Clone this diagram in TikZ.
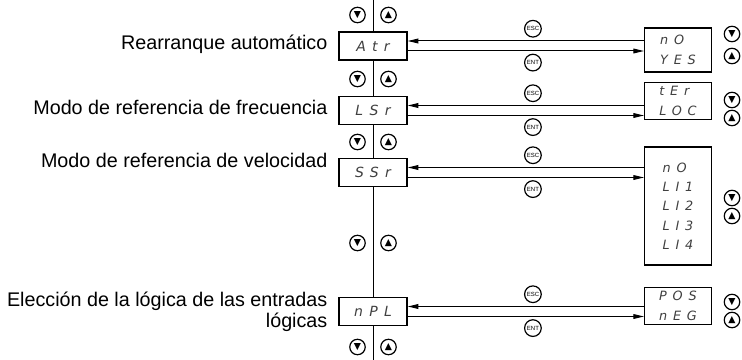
\documentclass[tikz,border=0pt]{standalone}
\usepackage{fontspec}
\setmainfont{Liberation Sans}
\newfontfamily\lcdfont{DejaVu Sans}[LetterSpace=45]
\newfontfamily\symfont{DejaVu Sans}
\usetikzlibrary{arrows.meta,positioning}
\newcommand{\dnkey}{\symfont\char"25BC}
\newcommand{\upkey}{\symfont\char"25B2}

\begin{document}
\begin{tikzpicture}[
   x=0.75pt, y=-0.75pt,
   lcd/.style={draw, line width=1.1pt, fill=white, minimum width=51pt,
      minimum height=21pt, inner sep=0pt, text=black!75,
      font=\lcdfont\itshape\fontsize{10.5}{12}\selectfont},
   choice/.style={draw, line width=1.1pt, fill=white, minimum width=50pt,
      align=left, inner sep=0pt, text=black!75,
      font=\lcdfont\itshape\fontsize{9.6}{14.5}\selectfont},
   lbl/.style={align=right, inner sep=0pt,
      font=\fontsize{14.8}{16}\selectfont},
   key/.style={draw, circle, line width=0.9pt, minimum size=11.6pt,
      inner sep=0pt, font=\symfont\fontsize{7}{7}\selectfont},
   btn/.style={draw, circle, line width=0.9pt, minimum size=12.5pt,
      inner sep=0pt, font=\fontsize{4.5}{4.5}\selectfont},
   arrow/.style={-{Triangle[length=8pt, width=3.6pt]}, line width=0.75pt},
   link/.style={line width=0.75pt}
]
\useasboundingbox (0,0) rectangle (742,360);

% menu as shown on the terminal
\node[lcd] (Atr) at (373,46) {Atr};
\node[lcd] (LSr) at (373,110.5) {LSr};
\node[lcd] (SSr) at (373,172.5) {SSr};
\node[lcd] (nPL) at (373,311.5) {nPL};

\node[lbl, left=8pt of Atr, anchor=base east, yshift=-3pt] (tAtr)
   {Rearranque automático};
\node[lbl, left=8pt of LSr, anchor=base east, yshift=-3pt] (tLSr)
   {Modo de referencia de frecuencia};
\node[lbl, left=8pt of SSr, anchor=base east, yshift=3.4pt] (tSSr)
   {Modo de referencia de velocidad};
\node[lbl, left=8pt of nPL, anchor=base east, yshift=-12.2pt] (tnPL)
   {Elección de la lógica de las entradas\\lógicas};

% values to choose from
\node[choice, minimum height=33pt] (R1) at (678,50) {nO\\YES};
\node[choice, minimum height=27.5pt] (R2) at (678,101) {tEr\\LOC};
\node[choice, minimum height=88.5pt] (R3) at (678,206)
   {nO\\LI1\\LI2\\LI3\\LI4};
\node[choice, minimum height=27.5pt] (R4) at (678,306) {POS\\nEG};

% scrolling through the menu
\coordinate (top) at (373,0);
\coordinate (bot) at (373,360);
\draw[link] (top) -- (Atr) -- (LSr) -- (SSr) -- (nPL) -- (bot);

\node[key] (dn1) at (357.5,15) {\dnkey};
\node[key] (up1) at (388.5,15) {\upkey};
\node[key] (dn2) at (357.5,79) {\dnkey};
\node[key] (up2) at (388.5,79) {\upkey};
\node[key] (dn3) at (357.5,142) {\dnkey};
\node[key] (up3) at (388.5,142) {\upkey};
\node[key] (dn4) at (357.5,243) {\dnkey};
\node[key] (up4) at (388.5,243) {\upkey};
\node[key] (dn5) at (357.5,347) {\dnkey};
\node[key] (up5) at (388.5,347) {\upkey};

\node[key] (dnR1) at (732,34) {\dnkey};
\node[key] (upR1) at (732,56) {\upkey};
\node[key] (dnR2) at (732,100) {\dnkey};
\node[key] (upR2) at (732,118) {\upkey};
\node[key] (dnR3) at (732,198) {\dnkey};
\node[key] (upR3) at (732,216) {\upkey};
\node[key] (dnR4) at (732,302) {\dnkey};
\node[key] (upR4) at (732,320) {\upkey};

% ESC back, ENT into the values
\coordinate (a1) at ([yshift=3.75pt]Atr.east);
\coordinate (b1) at ([yshift=-3.75pt]Atr.east);
\coordinate (a2) at ([yshift=3.75pt]LSr.east);
\coordinate (b2) at ([yshift=-3.75pt]LSr.east);
\coordinate (a3) at ([yshift=3.75pt]SSr.east);
\coordinate (b3) at ([yshift=-3.75pt]SSr.east);
\coordinate (a4) at ([yshift=3.75pt]nPL.east);
\coordinate (b4) at ([yshift=-3.75pt]nPL.east);

\draw[arrow] (R1.west |- a1) -- node[btn, above=2.5pt, pos=0.47] (esc1) {ESC} (a1);
\draw[arrow] (b1) -- node[btn, below=2pt, pos=0.53] (ent1) {ENT} (R1.west |- b1);
\draw[arrow] (R2.west |- a2) -- node[btn, above=2.5pt, pos=0.47] (esc2) {ESC} (a2);
\draw[arrow] (b2) -- node[btn, below=2pt, pos=0.53] (ent2) {ENT} (R2.west |- b2);
\draw[arrow] (R3.west |- a3) -- node[btn, above=2.5pt, pos=0.47] (esc3) {ESC} (a3);
\draw[arrow] (b3) -- node[btn, below=2pt, pos=0.53] (ent3) {ENT} (R3.west |- b3);
\draw[arrow] (R4.west |- a4) -- node[btn, above=2.5pt, pos=0.47] (esc4) {ESC} (a4);
\draw[arrow] (b4) -- node[btn, below=2pt, pos=0.53] (ent4) {ENT} (R4.west |- b4);
\end{tikzpicture}
\end{document}
